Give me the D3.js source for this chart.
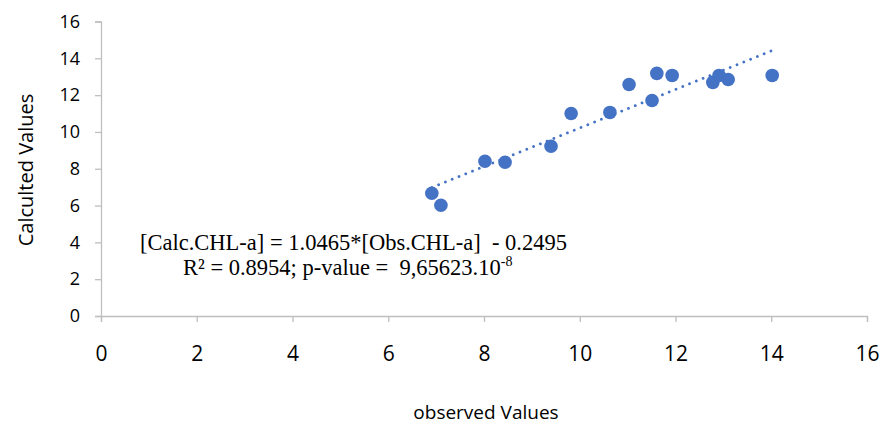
<!DOCTYPE html>
<html>
<head>
<meta charset="utf-8">
<script src="https://cdn.jsdelivr.net/npm/d3@7"></script>
<style>
  body { margin: 0; background: #fff; }
  svg { display: block; }
</style>
</head>
<body>
<div id="chart"></div>
<script>
// valeurs
const observed   = [6.91, 7.10, 8.02, 8.44, 9.40, 9.82, 10.63, 11.03, 11.51, 11.61, 11.93, 12.78, 12.91, 13.10, 14.02];
const calculated = [6.67, 6.02, 8.41, 8.35, 9.22, 11.00, 11.06, 12.58, 11.71, 13.18, 13.07, 12.69, 13.07, 12.85, 13.07];
const xTicks = [0, 2, 4, 6, 8, 10, 12, 14, 16];
const yTicks = [0, 2, 4, 6, 8, 10, 12, 14, 16];
const slope = 1.0465, intercept = -0.2495;

const width = 891, height = 428;
const blue = "#4472C4", axisCol = "#bfbfbf";

const svg = d3.select("#chart").append("svg")
    .attr("width", width)
    .attr("height", height);

const x = d3.scaleLinear().domain([0, 16]).range([101, 867]);
const y = d3.scaleLinear().domain([0, 16]).range([316, 21.5]);

// axe Y
const yAxis = svg.append("g")
    .attr("transform", `translate(${x(0)},0)`)
    .call(d3.axisLeft(y).tickValues(yTicks).tickSize(6).tickPadding(15));
yAxis.select(".domain").attr("stroke", axisCol).attr("stroke-width", 1.3);
yAxis.selectAll(".tick line").attr("stroke", axisCol).attr("stroke-width", 1.3);
yAxis.selectAll(".tick text")
    .attr("fill", "#000")
    .style("font-family", "'Open Sans', sans-serif")
    .style("font-size", "18px");

// axe X
const xAxis = svg.append("g")
    .attr("transform", `translate(0,${y(0)})`)
    .call(d3.axisBottom(x).tickValues(xTicks).tickSize(6).tickPadding(24));
xAxis.select(".domain").attr("stroke", axisCol).attr("stroke-width", 1.3);
xAxis.selectAll(".tick line").attr("stroke", axisCol).attr("stroke-width", 1.3);
xAxis.selectAll(".tick text")
    .attr("fill", "#000")
    .style("font-family", "'Open Sans', sans-serif")
    .style("font-size", "21px");

// titres des axes
svg.append("text")
    .attr("x", 486).attr("y", 419)
    .attr("text-anchor", "middle")
    .style("font-family", "'Open Sans', sans-serif")
    .style("font-size", "19px")
    .text("observed Values");

svg.append("text")
    .attr("transform", "translate(33,170) rotate(-90)")
    .attr("text-anchor", "middle")
    .style("font-family", "'Open Sans', sans-serif")
    .style("font-size", "20px")
    .text("Calculted Values");

// courbe de tendance
const xMin = d3.min(observed), xMax = d3.max(observed);
svg.append("line")
    .attr("x1", x(xMin)).attr("y1", y(slope * xMin + intercept))
    .attr("x2", x(xMax)).attr("y2", y(slope * xMax + intercept))
    .attr("stroke", blue)
    .attr("stroke-width", 2.8)
    .attr("stroke-linecap", "round")
    .attr("stroke-dasharray", "0.01,7.3");

// points
svg.selectAll(".pt")
    .data(observed.map((v, i) => [v, calculated[i]]))
    .enter().append("circle")
    .attr("class", "pt")
    .attr("cx", d => x(d[0]))
    .attr("cy", d => y(d[1]))
    .attr("r", 6.8)
    .attr("fill", blue);

// équation
const eq = svg.append("g")
    .style("font-family", "'Liberation Serif', 'Times New Roman', serif")
    .style("font-size", "22.5px")
    .attr("fill", "#000");
eq.append("text")
    .attr("x", 140).attr("y", 250)
    .attr("xml:space", "preserve")
    .text("[Calc.CHL-a] = 1.0465*[Obs.CHL-a]  - 0.2495");
const l2 = eq.append("text")
    .attr("x", 183).attr("y", 275)
    .attr("xml:space", "preserve");
l2.append("tspan").text("R\u00B2 = 0.8954; p-value =  9,65623.10");
l2.append("tspan").attr("dy", -9).style("font-size", "14px").text("-8");
</script>
</body>
</html>
